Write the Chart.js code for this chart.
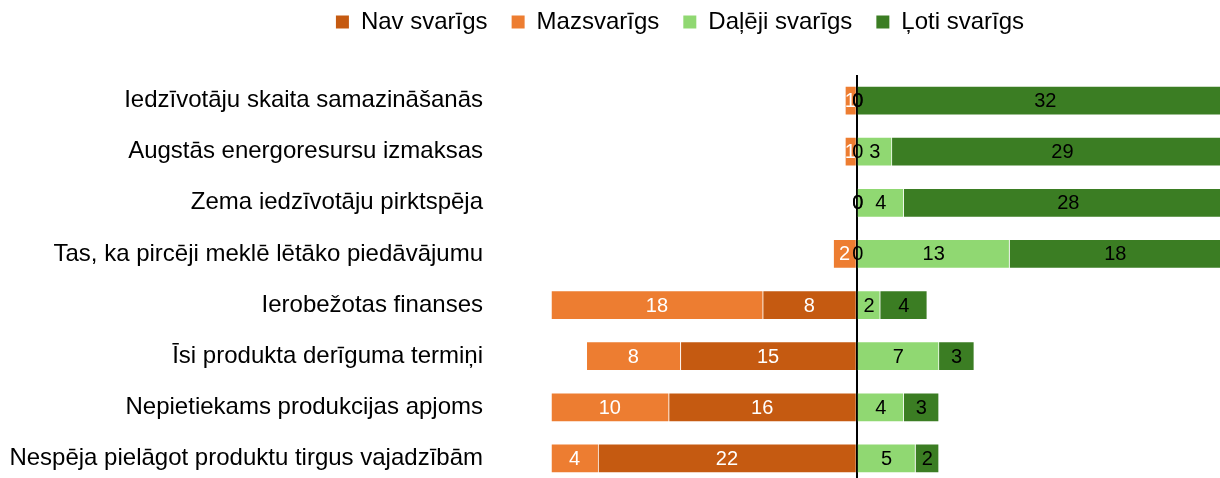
<!DOCTYPE html>
<html>
<head>
<meta charset="utf-8">
<script src="https://cdn.jsdelivr.net/npm/chart.js@4/dist/chart.umd.min.js"></script>
<style>
  html, body { margin: 0; padding: 0; background: #fff; overflow: hidden; }
  /* original picture is cropped a few px below the last bar */
  #wrap { width: 1220px; height: 478px; overflow: hidden; }
</style>
</head>
<body>
<div id="wrap"><canvas id="chart" width="1220" height="484"></canvas></div>
<script>
// ---- data ----
const categories = [
  'Iedzīvotāju skaita samazināšanās',
  'Augstās energoresursu izmaksas',
  'Zema iedzīvotāju pirktspēja',
  'Tas, ka pircēji meklē lētāko piedāvājumu',
  'Ierobežotas finanses',
  'Īsi produkta derīguma termiņi',
  'Nepietiekams produkcijas apjoms',
  'Nespēja pielāgot produktu tirgus vajadzībām',
];
const seriesNames = ['Nav svarīgs', 'Mazsvarīgs', 'Daļēji svarīgs', 'Ļoti svarīgs'];
const navSvarigs    = [0, 0, 0, 0, 8, 15, 16, 22];
const mazSvarigs    = [1, 1, 0, 2, 18, 8, 10, 4];
const dalejiSvarigs = [0, 3, 4, 13, 2, 7, 4, 5];
const lotiSvarigs   = [32, 29, 28, 18, 4, 3, 3, 2];

const COLORS      = ['#C55A11', '#ED7D31', '#90D872', '#3B7D23'];
const LABEL_COLOR = ['#ffffff', '#ffffff', '#000000', '#000000'];

Chart.defaults.font.family = '"Liberation Sans", Arial, sans-serif';
Chart.defaults.color = '#000';

// "not important" answers go to the left of zero
const datasets = [
  { label: seriesNames[0], data: navSvarigs.map(v => -v) },
  { label: seriesNames[1], data: mazSvarigs.map(v => -v) },
  { label: seriesNames[2], data: dalejiSvarigs },
  { label: seriesNames[3], data: lotiSvarigs },
].map((d, i) => ({
  ...d,
  backgroundColor: COLORS[i],
  borderColor: 'rgba(255,255,255,0.7)',
  borderWidth: 1,
  barThickness: 29,
}));

// value labels centred in each segment (zeros sit on the axis)
const segmentLabels = {
  id: 'segmentLabels',
  afterDatasetsDraw(chart) {
    const ctx = chart.ctx;
    const zeroX = chart.scales.x.getPixelForValue(0);
    ctx.save();
    ctx.font = '20px "Liberation Sans", Arial, sans-serif';
    ctx.textAlign = 'center';
    ctx.textBaseline = 'middle';
    chart.data.datasets.forEach((ds, di) => {
      const meta = chart.getDatasetMeta(di);
      meta.data.forEach((el, i) => {
        const v = Math.abs(ds.data[i]);
        const x = v === 0 ? zeroX + 1 : (el.x + el.base) / 2;
        ctx.fillStyle = v === 0 ? '#000' : LABEL_COLOR[di];
        ctx.fillText(String(v), x, el.y + 1);
      });
    });
    ctx.restore();
  }
};

// legend in the original sits right of the canvas centre
const shiftLegend = {
  id: 'shiftLegend',
  afterLayout(chart) {
    if (chart.legend) chart.legend.left += 140;
  }
};

const noEdgePad = s => { s.paddingTop = 0; s.paddingBottom = 0; };

new Chart(document.getElementById('chart'), {
  type: 'bar',
  data: { labels: categories, datasets },
  plugins: [segmentLabels, shiftLegend],
  options: {
    responsive: false,
    animation: false,
    indexAxis: 'y',
    layout: { padding: { left: 0, right: 0, top: -14, bottom: 0 } },
    plugins: {
      legend: {
        position: 'top',
        labels: {
          font: { size: 24 },
          color: '#000',
          boxWidth: 13,
          boxHeight: 13,
          padding: 24,
          generateLabels: chart =>
            Chart.defaults.plugins.legend.labels.generateLabels(chart)
              .map(l => ({ ...l, strokeStyle: l.fillStyle, lineWidth: 0 }))
        }
      },
      tooltip: { enabled: false }
    },
    scales: {
      x: {
        position: 'top',
        stacked: true,
        min: -30.6,
        max: 30.9,
        ticks: { display: false, stepSize: 10 },
        border: { display: false },
        grid: {
          drawTicks: false,
          color: c => (c.tick && c.tick.value === 0) ? '#000' : 'rgba(0,0,0,0)',
          lineWidth: 2
        },
        afterFit: s => { s.height = 31; noEdgePad(s); }
      },
      y: {
        stacked: true,
        border: { display: false },
        grid: { display: false, drawTicks: false },
        ticks: { font: { size: 24 }, color: '#000', padding: 14 },
        afterFit: s => { s.width = 497; noEdgePad(s); }
      }
    }
  }
});
</script>
</body>
</html>
